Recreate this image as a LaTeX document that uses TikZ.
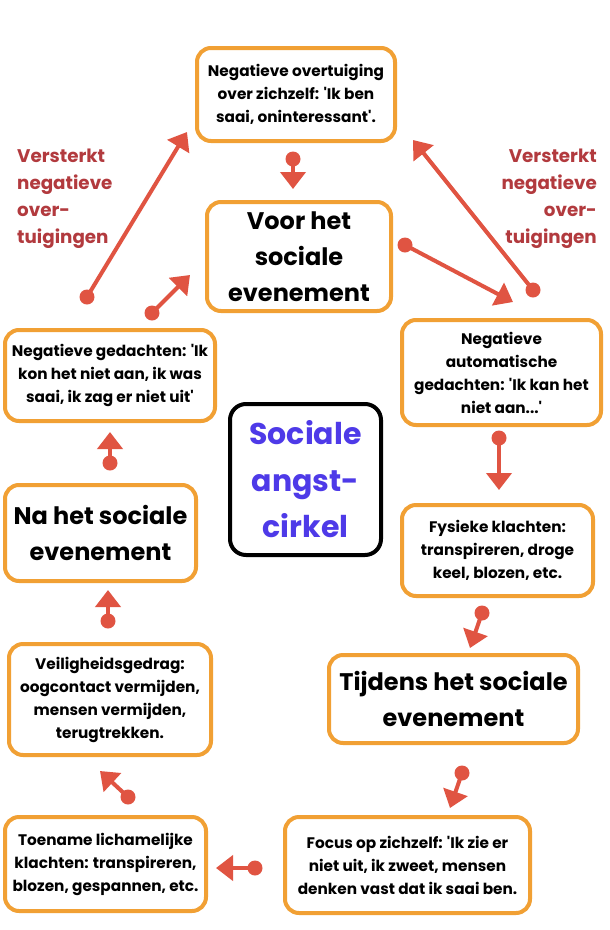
\documentclass[tikz,border=0pt]{standalone}
\usepackage{fontspec}
\setmainfont{Poppins}[Ligatures=TeXOff]
\usetikzlibrary{arrows.meta}
\definecolor{boxorange}{RGB}{241,160,52}
\definecolor{arrred}{RGB}{224,84,66}
\definecolor{lblred}{RGB}{178,58,62}
\definecolor{cblue}{RGB}{78,58,232}
\tikzset{
  box/.style={draw=boxorange, line width=4pt, fill=white, rounded corners=14pt, align=center, inner sep=0pt, font=\bfseries\fontsize{15.3}{23}\selectfont},
  bigbox/.style={box, font=\bfseries\fontsize{24}{36}\selectfont},
  conn/.style={draw=arrred, line width=4pt, -{Triangle[width=25pt,length=17pt]}},
  dot/.style={fill=arrred},
  lbl/.style={text=lblred, font=\bfseries\fontsize{18.3}{27}\selectfont, inner sep=0pt}
}
\begin{document}
\begin{tikzpicture}[x=1pt,y=-1pt]
\useasboundingbox[fill=white] (0,0) rectangle (610,930);
% boxes
\node[box, minimum width=198pt, minimum height=93pt] (top) at (296,94.5) {Negatieve overtuiging\\over zichzelf: 'Ik ben\\saai, oninteressant'.};
\node[bigbox, minimum width=184pt, minimum height=109pt] (voor) at (299,256.5) {Voor het\\sociale\\evenement};
\node[box, minimum width=199pt, minimum height=105pt] (auto) at (501.5,372.5) {Negatieve\\automatische\\gedachten: 'Ik kan het\\niet aan...'};
\node[box, minimum width=210pt, minimum height=91pt] (neg) at (110,375.5) {Negatieve gedachten: 'Ik\\kon het niet aan, ik was\\saai, ik zag er niet uit'};
\node[draw=black, line width=4pt, fill=white, rounded corners=16pt, minimum width=151pt, minimum height=151pt, align=center, text=cblue, font=\bfseries\fontsize{30}{46.5}\selectfont] (center) at (305.5,479.5) {Sociale\\angst-\\cirkel};
\node[bigbox, minimum width=191pt, minimum height=96pt] (na) at (100.5,533) {Na het sociale\\evenement};
\node[box, minimum width=191pt, minimum height=91pt] (fys) at (497.5,550.5) {Fysieke klachten:\\transpireren, droge\\keel, blozen, etc.};
\node[bigbox, minimum width=249pt, minimum height=88pt] (tijd) at (453.5,699) {Tijdens het sociale\\evenement};
\node[box, minimum width=245pt, minimum height=96pt] (focus) at (407.5,865) {Focus op zichzelf: 'Ik zie er\\niet uit, ik zweet, mensen\\denken vast dat ik saai ben.};
\node[box, minimum width=202pt, minimum height=111pt] (veil) at (110,699.5) {Veiligheidsgedrag:\\oogcontact vermijden,\\mensen vermijden,\\terugtrekken.};
\node[box, minimum width=201pt, minimum height=94pt] (toen) at (105.5,864) {Toename lichamelijke\\klachten: transpireren,\\blozen, gespannen, etc.};
% labels
\node[lbl, anchor=north west, align=left] (lblL) at (17,149) {Versterkt\\negatieve\\over-\\tuigingen};
\node[lbl, anchor=north east, align=right] (lblR) at (597,149) {Versterkt\\negatieve\\over-\\tuigingen};
% connector coordinates
\coordinate (a0) at (293,159); \coordinate (a1) at (293,189);
\coordinate (b0) at (405,245); \coordinate (b1) at (513,302);
\coordinate (c0) at (533,290); \coordinate (c1) at (413,140);
\coordinate (d0) at (87,297);  \coordinate (d1) at (187,132);
\coordinate (e0) at (152,313); \coordinate (e1) at (190,275);
\coordinate (f0) at (110,463); \coordinate (f1) at (110,432);
\coordinate (g0) at (108,621); \coordinate (g1) at (108,590);
\coordinate (h0) at (128,797); \coordinate (h1) at (100,771);
\coordinate (i0) at (255,868); \coordinate (i1) at (216,868);
\coordinate (j0) at (499,438); \coordinate (j1) at (499,490);
\coordinate (k0) at (482,613); \coordinate (k1) at (470,648);
\coordinate (l0) at (462,773); \coordinate (l1) at (450,808);
\foreach \p in {a,b,c,d,e,f,g,h,i,j,k,l}{
  \draw[conn] (\p0) -- (\p1);
  \fill[dot] (\p0) circle (7.5pt);
}
\end{tikzpicture}
\end{document}
